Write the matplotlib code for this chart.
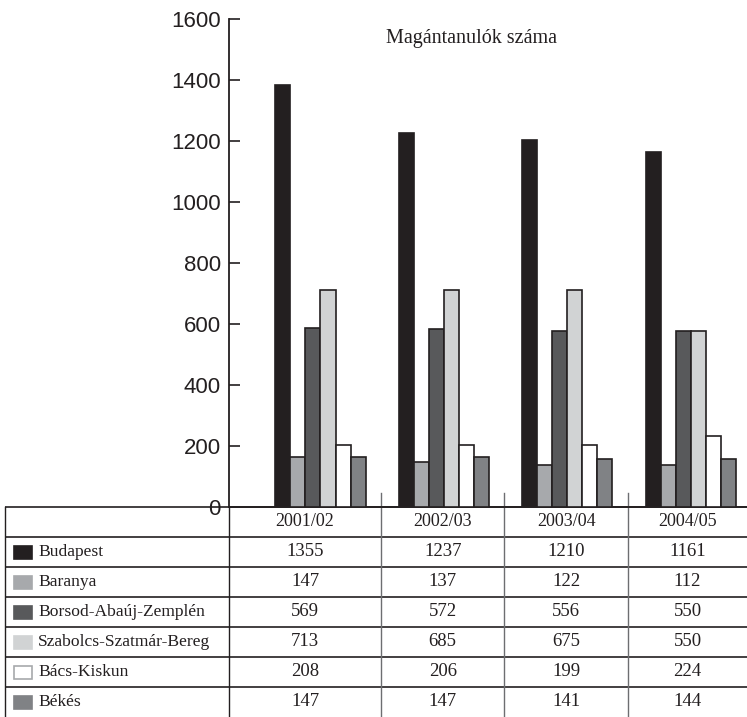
import matplotlib
matplotlib.use("Agg")
import matplotlib.pyplot as plt
from matplotlib.patches import Rectangle
import numpy as np

# Data
years = ["2001/02", "2002/03", "2003/04", "2004/05"]
regions = ["Budapest", "Baranya", "Borsod-Abaúj-Zemplén",
           "Szabolcs-Szatmár-Bereg", "Bács-Kiskun", "Békés"]

# values printed in the table
table_budapest = [1355, 1237, 1210, 1161]
table_baranya = [147, 137, 122, 112]
table_borsod = [569, 572, 556, 550]
table_szabolcs = [713, 685, 675, 550]
table_bacs = [208, 206, 199, 224]
table_bekes = [147, 147, 141, 144]

# bar heights as drawn in the original chart
bar_budapest = [1385, 1227, 1203, 1165]
bar_baranya = [165, 146, 138, 138]
bar_borsod = [588, 582, 578, 578]
bar_szabolcs = [711, 711, 711, 577]
bar_bacs = [203, 203, 203, 233]
bar_bekes = [165, 165, 156, 156]

table_rows = [table_budapest, table_baranya, table_borsod,
              table_szabolcs, table_bacs, table_bekes]
bar_rows = [bar_budapest, bar_baranya, bar_borsod,
            bar_szabolcs, bar_bacs, bar_bekes]

fills = ["#231f20", "#a7a9ac", "#58595b", "#d1d3d4", "#ffffff", "#808285"]
swatch_edges = ["#231f20", "#a7a9ac", "#58595b", "#d1d3d4", "#a7a9ac", "#808285"]
ink = "#231f20"
serif = "Liberation Serif"
sans = "Liberation Sans"

W, H = 747, 717
fig = plt.figure(figsize=(W / 100, H / 100), dpi=100)

# background axes in pixel coordinates for the table
tax = fig.add_axes([0, 0, 1, 1])
tax.set_xlim(0, W)
tax.set_ylim(H, 0)
tax.axis("off")

# bar chart axes
ax = fig.add_axes([229 / W, (H - 507) / H, (W - 229) / W, (507 - 19) / H])
ax.set_facecolor("none")
x0, x1 = -0.731, 3.464
ax.set_xlim(x0, x1)
ax.set_ylim(0, 1600)
ax.spines["top"].set_visible(False)
ax.spines["right"].set_visible(False)
for s in ["left", "bottom"]:
    ax.spines[s].set_color(ink)
    ax.spines[s].set_linewidth(1.3)
ax.set_xticks([])
ax.set_yticks(np.arange(0, 1601, 200))
ax.tick_params(axis="y", direction="in", length=8, width=1.2, color=ink,
               pad=6, labelsize=16, labelcolor=ink)
for lab in ax.get_yticklabels():
    lab.set_fontfamily(sans)

x = np.arange(len(years))
bw = 0.1215
for k, vals in enumerate(bar_rows):
    ec = fills[k] if k == 0 else ink
    ax.bar(x + (k - 2.5) * bw + 0.01, vals, bw, color=fills[k], edgecolor=ec,
           linewidth=1.2, zorder=3)

tax.text(471, 38, "Magántanulók száma", fontsize=14.5,
         family=serif, color=ink, ha="center", va="center")

# table layout from the bar axes scale
fig.canvas.draw()
def px(xd):
    return ax.transData.transform((xd, 0))[0]
base = H - ax.transData.transform((0, 0))[1]
edges = [px(x0)] + [px(i + 0.5) for i in range(3)] + [W]
left = 5
row_h = 30.0
n_rows = len(regions) + 1

for r in range(n_rows):
    yy = base + r * row_h
    tax.plot([left, W], [yy, yy], color=ink, lw=1.2, solid_capstyle="butt")
tax.plot([left, left], [base, H], color=ink, lw=1.0)
tax.plot([edges[0], edges[0]], [base, H], color=ink, lw=1.0)
for e in edges[1:-1]:
    tax.plot([e, e], [base - 14, H], color="#6d6e71", lw=1.0)

# header
for j, yr in enumerate(years):
    cx = (edges[j] + edges[j + 1]) / 2
    tax.text(cx, base + row_h / 2, yr, fontsize=13, family=serif,
             color=ink, ha="center", va="center")

# rows
for i, name in enumerate(regions):
    cy = base + (i + 1.5) * row_h
    tax.add_patch(Rectangle((14, cy - 6.5), 18, 13, facecolor=fills[i],
                            edgecolor=swatch_edges[i], lw=1.2))
    tax.text(38, cy, name, fontsize=12.6, family=serif, color=ink,
             ha="left", va="center")
    for j, v in enumerate(table_rows[i]):
        cx = (edges[j] + edges[j + 1]) / 2
        tax.text(cx, cy, str(v), fontsize=13.5, family=serif, color=ink,
                 ha="center", va="center")

fig.savefig("out.png", dpi=100)
